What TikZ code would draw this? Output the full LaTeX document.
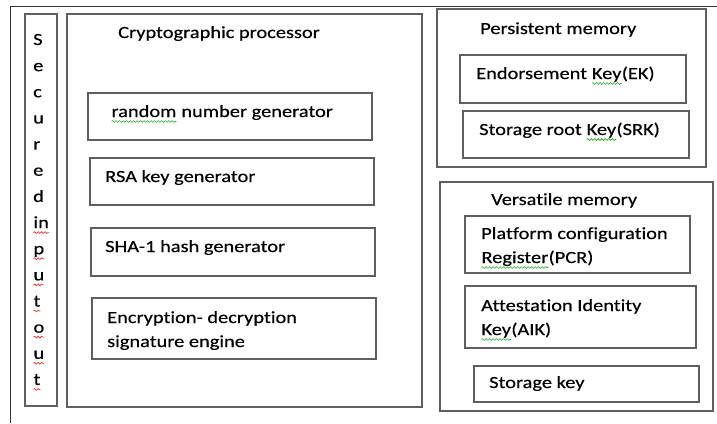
\documentclass[tikz,border=0pt]{standalone}
\usepackage{fontspec}
\setmainfont{Carlito}[FakeStretch=1.2, FakeBold=0.4, Ligatures=NoCommon]
\usetikzlibrary{decorations.pathmorphing}
\definecolor{boxgray}{RGB}{95,95,95}
\definecolor{sqgreen}{RGB}{40,170,40}
\definecolor{sqred}{RGB}{230,30,30}
% spell-check squiggle under a word
\newcommand\squig[2]{\tikz[baseline=(w.base)]{\node[inner sep=0pt,outer sep=0pt] (w) {#2};
  \draw[#1, line width=0.6pt, decorate, decoration={snake, amplitude=0.9pt, segment length=3.5pt}]
    ([yshift=-4.5pt]w.base west) -- ([yshift=-4.5pt]w.base east);}}
\newcommand\grnsq[1]{\squig{sqgreen}{#1}}
\newcommand\redsq[1]{\squig{sqred}{#1}}

\begin{document}
\begin{tikzpicture}[x=1pt,y=1pt]
\tikzstyle{every node}+=[inner sep=0pt]
\tikzstyle{box}=[draw=boxgray, line width=1.4pt]
\tikzstyle{lbl}=[anchor=base west, align=left, font=\fontsize{17}{24}\selectfont]
\useasboundingbox (0,0) rectangle (717,-423);
% outer frame
\draw [line width=1pt, black!80] (717,-6.5) -- (10,-6.5) -- (10,-423);
% secured input output
\draw [box] (25,-14) rectangle (57,-406);
\foreach \ch [count=\i] in {S,e,c,u,r,e,d,\redsq{in},\redsq{p},\redsq{u},\redsq{t},\redsq{o},\redsq{u},\redsq{t}}
  \node [lbl] (io\i) at (33,{-45-26.15*(\i-1)}) {\ch};
% cryptographic processor
\draw [box] (67,-14) rectangle (422,-407);
\node [lbl] (cp) at (118,-38) {Cryptographic processor};
\draw [box] (88,-93) rectangle (372,-140);
\node [lbl] (rng) at (111,-117) {\grnsq{random} number generator};
\draw [box] (90,-158) rectangle (374,-205);
\node [lbl] (rsa) at (105,-182) {RSA key generator};
\draw [box] (91,-228) rectangle (375,-276);
\node [lbl] (sha) at (105,-252) {SHA-1 hash generator};
\draw [box] (92,-298) rectangle (376,-359);
% base of a two-line label is its second line
\node [lbl] (enc) at (107,-347) {Encryption- decryption\\signature engine};
% persistent memory
\draw [box] (437,-9) rectangle (706,-167);
\node [lbl] (pm) at (480,-34) {Persistent memory};
\draw [box] (460,-55) rectangle (686,-103);
\node [lbl] (ek) at (476,-79) {Endorsement \grnsq{Key}(EK)};
\draw [box] (463,-111) rectangle (689,-158);
\node [lbl] (srk) at (479,-135) {Storage root \grnsq{Key}(SRK)};
% versatile memory
\draw [box] (440,-182) rectangle (713,-411);
\node [lbl] (vm) at (491,-205) {Versatile memory};
\draw [box] (465,-216) rectangle (690,-273);
\node [lbl] (pcr) at (481,-263) {Platform configuration\\\grnsq{Register}(PCR)};
\draw [box] (465,-286) rectangle (696,-348);
\node [lbl] (aik) at (481,-335) {Attestation Identity\\\grnsq{Key}(AIK)};
\draw [box] (474,-366) rectangle (699,-402);
\node [lbl] (sk) at (489,-388) {Storage key};
\end{tikzpicture}
\end{document}
